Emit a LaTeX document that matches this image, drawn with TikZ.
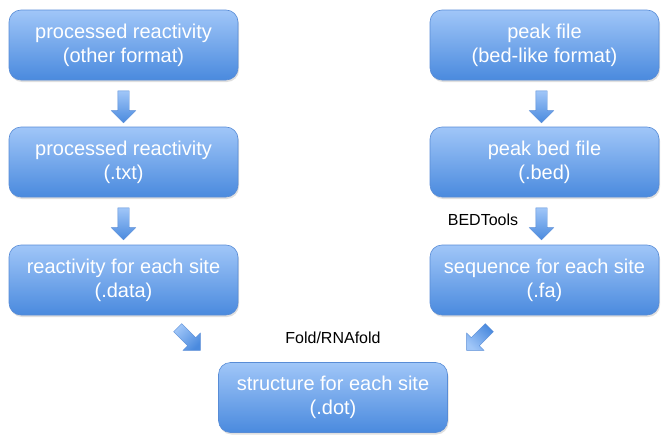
\documentclass[tikz,border=0pt]{standalone}
\usepackage{fontspec}
\setmainfont{Liberation Sans}
\usetikzlibrary{shapes,arrows,positioning,shadows}
\definecolor{boxtop}{RGB}{160,198,248}
\definecolor{boxbot}{RGB}{74,138,222}
\definecolor{boxline}{RGB}{88,140,214}

\begin{document}
\begin{tikzpicture}[x=1pt, y=-1pt,
	box/.style={rounded corners=12pt, draw=boxline, line width=0.6pt, top color=boxtop, bottom color=boxbot, minimum width=229pt, minimum height=70pt, align=center, text=white, font=\fontsize{20}{24}\selectfont, drop shadow={opacity=0.25, shadow xshift=1pt, shadow yshift=-2pt}},
	blockarrow/.style={single arrow, draw=boxline, line width=0.4pt, top color=boxtop, bottom color=boxbot, inner sep=5.5pt, single arrow head extend=6.5pt, minimum height=32pt},
	lbl/.style={font=\fontsize{16}{19}\selectfont}]
	\useasboundingbox (0,0) rectangle (670,447);
	% Left column
	\node[box] (r1) at (123.5,45) {processed reactivity\\(other format)};
	\node[box] (r2) at (123.5,162) {processed reactivity\\(.txt)};
	\node[box] (r3) at (123.5,280) {reactivity for each site\\(.data)};
	% Right column
	\node[box] (p1) at (544.5,45) {peak file\\(bed-like format)};
	\node[box] (p2) at (544.5,162) {peak bed file\\(.bed)};
	\node[box] (p3) at (544.5,280) {sequence for each site\\(.fa)};
	% Result
	\node[box] (s) at (333,397.5) {structure for each site\\(.dot)};
	% Arrows
	\node[blockarrow, shape border rotate=270] (ar1) at (123.5,104) {};
	\node[blockarrow, shape border rotate=270] (ar2) at (123.5,221) {};
	\node[blockarrow, shape border rotate=270] (ap1) at (541.5,104) {};
	\node[blockarrow, shape border rotate=270] (ap2) at (541.5,221) {};
	\node[blockarrow, rotate=-45, shading angle=45] (ar3) at (187,337) {};
	\node[blockarrow, rotate=225, shading angle=135] (ap3) at (480,337) {};
	% Labels
	\node[lbl] (bt) at (483,220) {BEDTools};
	\node[lbl] (fo) at (333,338) {Fold/RNAfold};
\end{tikzpicture}
\end{document}
